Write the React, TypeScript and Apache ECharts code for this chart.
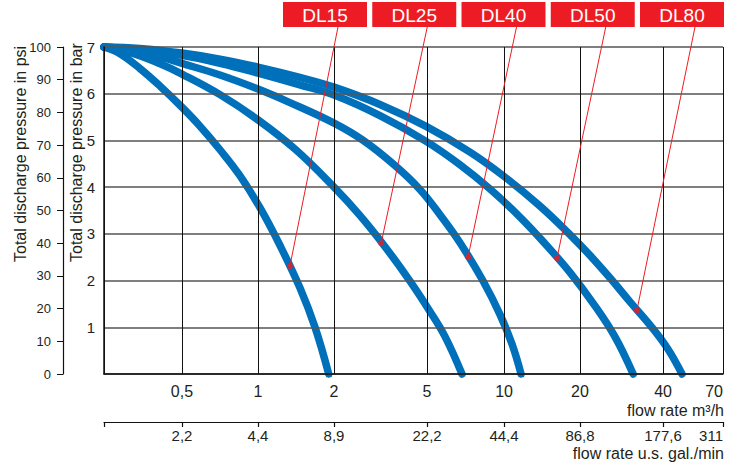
import React, { useEffect, useRef } from 'react';
import * as echarts from 'echarts';

// ---- data ----
const FLOW_TICKS = [0, 0.5, 1, 2, 5, 10, 20, 40, 70]; // m3/h tick values
const M3H_LABELS = ['', '0,5', '1', '2', '5', '10', '20', '40', '70'];
const GPM_LABELS = ['', '2,2', '4,4', '8,9', '22,2', '44,4', '86,8', '177,6', '311'];
const SERIES_NAMES = ['DL15', 'DL25', 'DL40', 'DL50', 'DL80'];

// flow in m3/h, pressure in bar
const DL15_FLOW = [0, 0.1, 0.23, 0.36, 0.5, 0.62, 0.75, 0.88, 1.03, 1.29, 1.55, 1.75, 1.93];
const DL15_BAR = [7, 6.86, 6.54, 6.16, 5.71, 5.3, 4.8, 4.25, 3.55, 2.75, 1.85, 1.0, 0];
const DL25_FLOW = [0, 0.17, 0.36, 0.5, 0.75, 1.0, 1.49, 2.0, 2.84, 3.65, 4.45, 5.19, 6.17, 7.27];
const DL25_BAR = [7, 6.88, 6.64, 6.42, 5.98, 5.44, 4.81, 4.0, 3.39, 2.72, 1.99, 1.34, 0.8, 0];
const DL40_FLOW = [0, 0.17, 0.36, 0.5, 0.75, 1.0, 1.42, 2.0, 2.94, 3.97, 4.77, 5.84, 7.14, 8.64, 9.74, 11.05, 12.24];
const DL40_BAR = [7, 6.94, 6.79, 6.65, 6.4, 6.1, 5.81, 5.37, 5.0, 4.46, 3.95, 3.41, 2.81, 1.99, 1.27, 0.64, 0];
const DL50_FLOW = [0, 0.23, 0.5, 0.75, 1.0, 1.55, 2.0, 3.48, 4.97, 7.14, 9.09, 12.1, 15.4, 18.7, 23.6, 28.4, 32.8];
const DL50_BAR = [7, 6.94, 6.82, 6.65, 6.44, 6.19, 5.97, 5.53, 4.98, 4.48, 3.96, 3.36, 2.79, 2.17, 1.46, 0.8, 0];
const DL80_FLOW = [0, 0.23, 0.5, 0.75, 1.0, 1.55, 2.0, 3.48, 4.97, 7.79, 10.0, 14.7, 18.4, 22.4, 27.2, 32.0, 37.3, 42.5, 49.5];
const DL80_BAR = [7, 6.97, 6.87, 6.74, 6.57, 6.35, 6.14, 5.77, 5.3, 4.75, 4.23, 3.6, 3.03, 2.54, 2.06, 1.55, 1.0, 0.53, 0];

// point on each curve where its name tag's leader line ends
const TAG_FLOW = [1.42, 3.52, 7.66, 16.97, 33.7];
const TAG_BAR = [2.31, 2.8, 2.5, 2.48, 1.36];

// ---- layout ----
// where each flow tick sits along the x axis (axis is 8 slots wide, spacing as drawn)
const TICK_SLOT = [0, 1.008, 1.99, 2.973, 4.175, 5.17, 6.152, 7.225, 8];

const FLOWS = [DL15_FLOW, DL25_FLOW, DL40_FLOW, DL50_FLOW, DL80_FLOW];
const BARS = [DL15_BAR, DL25_BAR, DL40_BAR, DL50_BAR, DL80_BAR];

const BLUE = '#0070BA';
const RED = '#ED1C24';
const TEXT = '#231F20';
const FONT = '"Liberation Sans", Arial, Helvetica, sans-serif';

function toSlot(flow: number): number {
  for (let i = 1; i < FLOW_TICKS.length; i++) {
    if (flow <= FLOW_TICKS[i]) {
      const t = (flow - FLOW_TICKS[i - 1]) / (FLOW_TICKS[i] - FLOW_TICKS[i - 1]);
      return TICK_SLOT[i - 1] + t * (TICK_SLOT[i] - TICK_SLOT[i - 1]);
    }
  }
  return TICK_SLOT[TICK_SLOT.length - 1];
}

const labelAt = (labels: string[]) => (v: number) => {
  const i = TICK_SLOT.findIndex((s) => Math.abs(s - v) < 1e-6);
  return i >= 0 ? labels[i] : '';
};

export default function App() {
  const ref = useRef<HTMLDivElement>(null);

  useEffect(() => {
    document.body.style.margin = '0';
    if (!ref.current) return;
    const chart = echarts.init(ref.current, null, { renderer: 'svg' });

    const lineSeries = SERIES_NAMES.map((name, k) => ({
      type: 'line',
      name,
      xAxisIndex: 0,
      yAxisIndex: 0,
      data: FLOWS[k].map((f, j) => [toSlot(f), BARS[k][j]]),
      symbol: 'none',
      showSymbol: false,
      smooth: 0.4,
      clip: false,
      z: 2,
      lineStyle: { color: BLUE, width: 7.5, cap: 'round', join: 'round' },
    }));

    const tagSeries = {
      type: 'scatter',
      name: 'tags',
      xAxisIndex: 0,
      yAxisIndex: 0,
      data: TAG_FLOW.map((f, i) => [toSlot(f), TAG_BAR[i]]),
      symbol: 'circle',
      symbolSize: 6,
      clip: false,
      z: 6,
      itemStyle: { color: RED },
    };

    chart.setOption({
      animation: false,
      backgroundColor: '#ffffff',
      textStyle: { fontFamily: FONT },
      grid: { left: 104, right: 15, top: 47, bottom: 92, containLabel: false },
      xAxis: [
        {
          type: 'value',
          min: 0,
          max: 8,
          position: 'bottom',
          z: 3,
          axisLine: { show: true, onZero: false, lineStyle: { color: '#111', width: 1.5 } },
          axisTick: { show: false, customValues: TICK_SLOT },
          splitLine: { show: true, lineStyle: { color: '#111', width: 1 } },
          axisLabel: {
            customValues: TICK_SLOT.slice(1),
            formatter: labelAt(M3H_LABELS),
            fontSize: 16,
            color: TEXT,
            margin: 9,
            fontFamily: FONT,
            alignMaxLabel: 'right',
          },
        },
        {
          type: 'value',
          min: 0,
          max: 8,
          position: 'bottom',
          offset: 48,
          z: 3,
          axisLine: { show: true, onZero: false, lineStyle: { color: '#111', width: 1.2 } },
          axisTick: { show: true, inside: false, length: 5, customValues: TICK_SLOT, lineStyle: { color: '#111', width: 1.2 } },
          splitLine: { show: false },
          axisLabel: {
            customValues: TICK_SLOT.slice(1),
            formatter: labelAt(GPM_LABELS),
            fontSize: 15,
            color: TEXT,
            margin: 6,
            fontFamily: FONT,
            alignMaxLabel: 'right',
          },
        },
      ],
      yAxis: [
        {
          type: 'value',
          min: 0,
          max: 7,
          interval: 1,
          position: 'left',
          z: 3,
          axisLine: { show: true, onZero: false, lineStyle: { color: '#111', width: 1.5 } },
          axisTick: { show: false },
          splitLine: { show: true, lineStyle: { color: '#555', width: 1.5 } },
          axisLabel: {
            formatter: (v: number) => (v === 0 ? '' : String(v)),
            fontSize: 15,
            color: TEXT,
            margin: 9,
            fontFamily: FONT,
          },
        },
        {
          type: 'value',
          min: 0,
          max: 100,
          interval: 10,
          position: 'left',
          offset: 41,
          z: 3,
          axisLine: { show: true, onZero: false, lineStyle: { color: '#111', width: 1.2 } },
          axisTick: { show: true, inside: false, length: 6, lineStyle: { color: '#111', width: 1 } },
          splitLine: { show: false },
          axisLabel: { fontSize: 13, color: TEXT, margin: 12, fontFamily: FONT },
        },
      ],
      series: [...lineSeries, tagSeries],
    });

    const tagIndex = lineSeries.length;
    const dots = TAG_FLOW.map((f, i) =>
      chart.convertToPixel({ seriesIndex: tagIndex }, [toSlot(f), TAG_BAR[i]]) as number[]
    );

    const boxW = 84;
    const boxH = 25;
    const boxTop = 2;
    const step = 89.25;
    const lastLeft = 640;
    const graphics: any[] = [];
    SERIES_NAMES.forEach((name, i) => {
      const left = lastLeft - (SERIES_NAMES.length - 1 - i) * step;
      graphics.push({
        type: 'rect',
        shape: { x: left, y: boxTop, width: boxW, height: boxH },
        style: { fill: RED },
        z: 10,
      });
      graphics.push({
        type: 'text',
        x: left + boxW / 2,
        y: boxTop + boxH / 2 + 1,
        style: {
          text: name,
          fill: '#ffffff',
          fontSize: 19,
          fontFamily: FONT,
          align: 'center',
          verticalAlign: 'middle',
        },
        z: 11,
      });
      const d = dots[i];
      graphics.push({
        type: 'line',
        shape: { x1: left + boxW / 2 + 13, y1: boxTop + boxH, x2: d[0], y2: d[1] },
        style: { stroke: RED, lineWidth: 1 },
        z: 9,
      });
    });

    graphics.push({
      type: 'text',
      x: 20,
      y: 262,
      rotation: Math.PI / 2,
      style: {
        text: 'Total discharge pressure in psi',
        fill: TEXT,
        fontSize: 16,
        fontFamily: FONT,
        align: 'left',
        verticalAlign: 'middle',
      },
    });
    graphics.push({
      type: 'text',
      x: 76,
      y: 262,
      rotation: Math.PI / 2,
      style: {
        text: 'Total discharge pressure in bar',
        fill: TEXT,
        fontSize: 16,
        fontFamily: FONT,
        align: 'left',
        verticalAlign: 'middle',
      },
    });
    graphics.push({
      type: 'text',
      x: 724,
      y: 410,
      style: {
        text: 'flow rate m³/h',
        fill: TEXT,
        fontSize: 16,
        fontFamily: FONT,
        align: 'right',
        verticalAlign: 'middle',
      },
    });
    graphics.push({
      type: 'text',
      x: 724,
      y: 453,
      style: {
        text: 'flow rate u.s. gal./min',
        fill: TEXT,
        fontSize: 16,
        fontFamily: FONT,
        align: 'right',
        verticalAlign: 'middle',
      },
    });

    chart.setOption({ graphic: graphics });

    return () => {
      chart.dispose();
    };
  }, []);

  return <div ref={ref} style={{ width: 738, height: 466 }} />;
}
